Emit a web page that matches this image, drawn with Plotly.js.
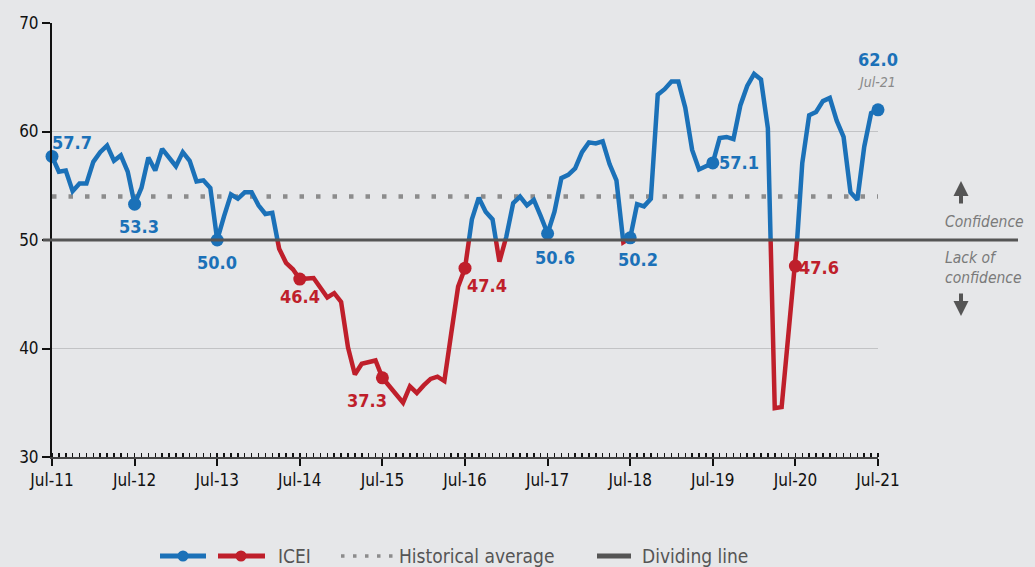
<!DOCTYPE html>
<html>
<head>
<meta charset="utf-8">
<script src="https://cdn.plot.ly/plotly-3.0.1.min.js"></script>
<style>
  html, body { margin: 0; padding: 0; background: #e6e7e9; }
  #chart { width: 1035px; height: 567px; }
</style>
</head>
<body>
<div id="chart"></div>
<script>
// ---- data ----
const tickLabels = ["Jul-11","Jul-12","Jul-13","Jul-14","Jul-15","Jul-16","Jul-17","Jul-18","Jul-19","Jul-20","Jul-21"];
const icei = [
  57.7, 56.3, 56.4, 54.5, 55.2, 55.2, 57.2, 58.1, 58.7, 57.3, 57.8, 56.3,
  53.3, 54.8, 57.6, 56.4, 58.4, 57.6, 56.8, 58.1, 57.3, 55.4, 55.5, 54.8,
  50.0, 52.2, 54.2, 53.8, 54.4, 54.4, 53.2, 52.4, 52.5, 49.2, 47.9, 47.3,
  46.4, 46.5, 46.5, 45.6, 44.7, 45.1, 44.3, 40.1, 37.6, 38.6, 38.7, 38.9,
  37.3, 36.5, 35.7, 35.0, 36.5, 35.9, 36.6, 37.2, 37.4, 37.0, 41.4, 45.7,
  47.4, 51.9, 53.9, 52.6, 51.9, 48.0, 50.3, 53.4, 54.0, 53.2, 53.7, 52.2,
  50.6, 52.6, 55.7, 56.0, 56.6, 58.1, 59.0, 58.9, 59.1, 57.0, 55.5, 49.8,
  50.2, 53.3, 53.1, 53.8, 63.4, 63.9, 64.6, 64.6, 62.2, 58.3, 56.5, 56.8,
  57.1, 59.4, 59.5, 59.3, 62.4, 64.2, 65.3, 64.8, 60.3, 34.5, 34.6, 41.1,
  47.6, 57.1, 61.5, 61.8, 62.8, 63.1, 61.0, 59.5, 54.4, 53.7, 58.6, 61.7,
  62.0
];
const historicalAverage = 54.0;
const dividingLine = 50;
const lastLabelDate = "Jul-21";
const legendNames = ["ICEI", "Historical average", "Dividing line"];

// ---- styles ----
const BLUE = "#1b71b8", RED = "#bf1f2b", GREY_DOT = "#8c8c8c", DARK = "#555555";
const FONT = "'DejaVu Sans Condensed', 'Liberation Sans Narrow', Roboto, sans-serif";
const yMin = 30, yMax = 70;
const M = { l: 52, r: 157, t: 23, b: 110 };
const W = 1035, H = 567;
const PW = W - M.l - M.r, PH = H - M.t - M.b;
const px = v => (v - M.l) / PW;          // page x px -> paper
const py = v => (H - M.b - v) / PH;      // page y px -> paper
// label offsets (px) for the annual markers, in order of July points
const labelShift = [[20,14],[4,-22],[0,-22],[0,-17],[-15,-23],[22,-17],[7,-24],[8,-22],[26,0],[24,-1],[0,50]];

// split into blue (>= 50) and red (< 50) segments
const bx = [], by = [], rx = [], ry = [];
for (let i = 0; i < icei.length; i++) {
  const v = icei[i], up = v >= dividingLine;
  (up ? bx : rx).push(i); (up ? by : ry).push(v);
  if (i < icei.length - 1) {
    const w = icei[i + 1], up2 = w >= dividingLine;
    if (up !== up2) {
      const xc = i + (dividingLine - v) / (w - v);
      const cx = up ? bx : rx, cy = up ? by : ry;
      const ox = up ? rx : bx, oy = up ? ry : by;
      cx.push(xc); cy.push(dividingLine); cx.push(null); cy.push(null);
      ox.push(xc); oy.push(dividingLine);
    }
  }
}
const julyIdx = [];
for (let i = 0; i < icei.length; i += 12) julyIdx.push(i);
const mbx = [], mby = [], mrx = [], mry = [];
julyIdx.forEach(i => { if (icei[i] >= dividingLine) { mbx.push(i); mby.push(icei[i]); } else { mrx.push(i); mry.push(icei[i]); } });

const traces = [
  { x: [0, icei.length - 1], y: [historicalAverage, historicalAverage], mode: "lines", name: "Historical average",
    line: { color: GREY_DOT, width: 4.5, dash: "4.5px,12px" }, showlegend: false, hoverinfo: "skip" },
  { x: bx, y: by, mode: "lines", line: { color: BLUE, width: 4.5 }, connectgaps: false, showlegend: false, name: "ICEI" },
  { x: rx, y: ry, mode: "lines", line: { color: RED, width: 4.5 }, connectgaps: false, showlegend: false, name: "ICEI" },
  { x: mbx, y: mby, mode: "markers", marker: { color: BLUE, size: 13 }, showlegend: false, name: "ICEI", cliponaxis: false },
  { x: mrx, y: mry, mode: "markers", marker: { color: RED, size: 13 }, showlegend: false, name: "ICEI", cliponaxis: false }
];

const annotations = julyIdx.map((i, k) => ({
  x: i, y: icei[i], xref: "x", yref: "y", text: "<b>" + icei[i].toFixed(1) + "</b>", showarrow: false,
  xshift: labelShift[k][0], yshift: labelShift[k][1],
  font: { family: FONT, size: 18, color: icei[i] >= dividingLine ? BLUE : RED }
}));
annotations.push({ x: icei.length - 1, y: icei[icei.length - 1], text: "<i>" + lastLabelDate + "</i>", showarrow: false,
  xshift: -2, yshift: 28, font: { family: FONT, size: 14, color: "#8a8a8a" } });
annotations.push({ xref: "paper", yref: "paper", x: px(943), y: py(222), xanchor: "left", text: "<i>Confidence</i>",
  showarrow: false, font: { family: FONT, size: 15.5, color: "#7a7a7a" } });
annotations.push({ xref: "paper", yref: "paper", x: px(943), y: py(268), xanchor: "left", align: "left",
  text: "<i>Lack of<br>confidence</i>", showarrow: false, font: { family: FONT, size: 15.5, color: "#7a7a7a" } });
annotations.push({ xref: "paper", yref: "paper", x: px(961), y: py(181), ax: 0, ay: 24, text: "", showarrow: true,
  arrowhead: 2, arrowsize: 0.75, arrowwidth: 4, arrowcolor: DARK });
annotations.push({ xref: "paper", yref: "paper", x: px(961), y: py(316), ax: 0, ay: -24, text: "", showarrow: true,
  arrowhead: 2, arrowsize: 0.75, arrowwidth: 4, arrowcolor: DARK });

// custom legend (bottom)
const LY = py(556);
const legendFont = { family: FONT, size: 19, color: "#555" };
annotations.push({ xref: "paper", yref: "paper", x: px(276), y: LY, xanchor: "left", yanchor: "middle", text: legendNames[0], showarrow: false, font: legendFont });
annotations.push({ xref: "paper", yref: "paper", x: px(397), y: LY, xanchor: "left", yanchor: "middle", text: legendNames[1], showarrow: false, font: legendFont });
annotations.push({ xref: "paper", yref: "paper", x: px(640), y: LY, xanchor: "left", yanchor: "middle", text: legendNames[2], showarrow: false, font: legendFont });

const dividingY = (dividingLine - yMin) / (yMax - yMin);
const shapes = [
  { type: "line", xref: "paper", yref: "paper", x0: -0.011, x1: px(1018), y0: dividingY, y1: dividingY,
    line: { color: DARK, width: 3 }, layer: "above" },
  // legend symbols
  { type: "line", xref: "paper", yref: "paper", x0: px(160), x1: px(206), y0: LY, y1: LY, line: { color: BLUE, width: 5 } },
  { type: "circle", xref: "paper", yref: "paper", xsizemode: "pixel", ysizemode: "pixel", xanchor: px(183), yanchor: LY,
    x0: -5.5, x1: 5.5, y0: -5.5, y1: 5.5, fillcolor: BLUE, line: { width: 0 } },
  { type: "line", xref: "paper", yref: "paper", x0: px(218), x1: px(265), y0: LY, y1: LY, line: { color: RED, width: 5 } },
  { type: "circle", xref: "paper", yref: "paper", xsizemode: "pixel", ysizemode: "pixel", xanchor: px(241), yanchor: LY,
    x0: -5.5, x1: 5.5, y0: -5.5, y1: 5.5, fillcolor: RED, line: { width: 0 } },
  { type: "line", xref: "paper", yref: "paper", x0: px(341), x1: px(393), y0: LY, y1: LY, line: { color: GREY_DOT, width: 3.5, dash: "3.5px,8.5px" } },
  { type: "line", xref: "paper", yref: "paper", x0: px(597), x1: px(631), y0: LY, y1: LY, line: { color: DARK, width: 5 } }
];

const layout = {
  width: W, height: H,
  margin: M,
  paper_bgcolor: "#e6e7e9", plot_bgcolor: "#e6e7e9",
  font: { family: FONT, size: 17, color: "#111" },
  showlegend: false,
  xaxis: {
    range: [0, icei.length - 1], tickvals: julyIdx, ticktext: tickLabels,
    showgrid: false, zeroline: false, showline: true, linecolor: "#444", linewidth: 2,
    ticks: "outside", ticklen: 7, tickwidth: 2, tickcolor: "#111",
    minor: { dtick: 1, ticks: "inside", ticklen: 4, tickwidth: 1.5, tickcolor: "#111", showgrid: false },
    tickfont: { family: FONT, size: 17, color: "#111" }, fixedrange: true, automargin: false
  },
  yaxis: {
    range: [yMin, yMax], dtick: 10, showgrid: true, gridcolor: "#c2c3c5", gridwidth: 1.5,
    zeroline: false, showline: true, linecolor: "#111", linewidth: 2,
    ticks: "outside", ticklen: 8, tickwidth: 2, tickcolor: "#111",
    tickfont: { family: FONT, size: 17, color: "#111" }, fixedrange: true, automargin: false
  },
  shapes: shapes,
  annotations: annotations
};

Plotly.newPlot("chart", traces, layout, { displayModeBar: false, staticPlot: true });
</script>
</body>
</html>
